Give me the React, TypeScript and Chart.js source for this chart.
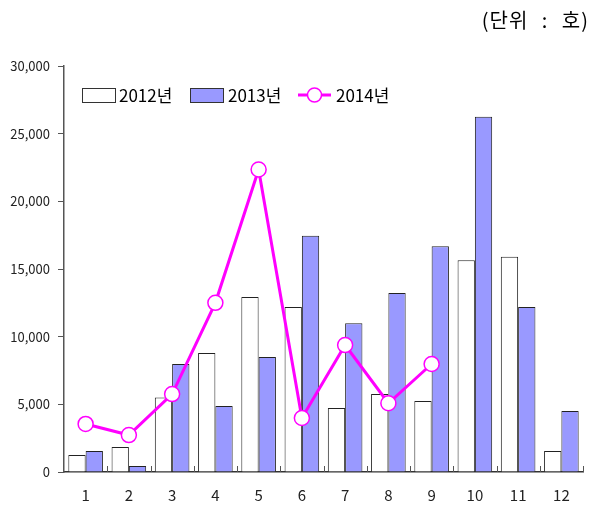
import React, { useEffect, useRef } from "react";
import { Chart, registerables } from "chart.js";

Chart.register(...registerables);

const categories = ["1", "2", "3", "4", "5", "6", "7", "8", "9", "10", "11", "12"];
const series2012 = [1250, 1850, 5500, 8800, 12930, 12200, 4730, 5760, 5250, 15650, 15900, 1550];
const series2013 = [1550, 440, 7980, 4880, 8500, 17450, 11000, 13230, 16680, 26250, 12200, 4500];
const series2014 = [3550, 2730, 5760, 12500, 22350, 3990, 9380, 5080, 7980, null, null, null];
const seriesNames = ["2012년", "2013년", "2014년"];
const unitLabel = "(단위 : 호)";

const FONT = "'Noto Sans CJK KR', 'Noto Sans', sans-serif";

export default function App() {
  const ref = useRef<HTMLCanvasElement | null>(null);
  useEffect(() => {
    if (!ref.current) return;
    const extras = {
      id: "extras",
      afterDraw(chart: any) {
        const ctx = chart.ctx;
        const area = chart.chartArea;
        ctx.save();
        // inward tick marks on x axis at category boundaries
        ctx.strokeStyle = "#555";
        ctx.lineWidth = 1;
        const n = categories.length;
        const w = (area.right - area.left) / n;
        for (let i = 1; i <= n; i++) {
          const x = Math.round(area.left + w * i) + 0.5;
          ctx.beginPath();
          ctx.moveTo(x, area.bottom);
          ctx.lineTo(x, area.bottom - 6);
          ctx.stroke();
        }
        // unit label
        ctx.fillStyle = "#000";
        ctx.font = `20px ${FONT}`;
        ctx.textAlign = "right";
        ctx.textBaseline = "middle";
        try {
          (ctx as any).letterSpacing = "1px";
          (ctx as any).wordSpacing = "8px";
        } catch (e) {}
        ctx.fillText(unitLabel, 589, 20);
        try {
          (ctx as any).letterSpacing = "0px";
          (ctx as any).wordSpacing = "0px";
        } catch (e) {}
        // legend
        ctx.font = `17px ${FONT}`;
        ctx.textAlign = "left";
        ctx.lineWidth = 1;
        const ly = 95;
        ctx.fillStyle = "#fff";
        ctx.strokeStyle = "#333";
        ctx.fillRect(82, ly - 7, 33, 14);
        ctx.strokeRect(82.5, ly - 6.5, 33, 14);
        ctx.fillStyle = "#000";
        ctx.fillText(seriesNames[0], 119, ly + 1);
        ctx.fillStyle = "#9999FF";
        ctx.fillRect(190, ly - 7, 33, 14);
        ctx.strokeStyle = "#333";
        ctx.strokeRect(190.5, ly - 6.5, 33, 14);
        ctx.fillStyle = "#000";
        ctx.fillText(seriesNames[1], 228, ly + 1);
        ctx.strokeStyle = "#FF00FF";
        ctx.lineWidth = 3;
        ctx.beginPath();
        ctx.moveTo(298, ly);
        ctx.lineTo(331, ly);
        ctx.stroke();
        ctx.fillStyle = "#fff";
        ctx.lineWidth = 1.5;
        ctx.beginPath();
        ctx.arc(314.5, ly, 7, 0, Math.PI * 2);
        ctx.fill();
        ctx.stroke();
        ctx.fillStyle = "#000";
        ctx.fillText(seriesNames[2], 336, ly + 1);
        ctx.restore();
      },
    };
    const chart = new Chart(ref.current, {
      type: "bar",
      data: {
        labels: categories,
        datasets: [
          {
            type: "line",
            label: seriesNames[2],
            data: series2014 as any,
            borderColor: "#FF00FF",
            borderWidth: 3,
            backgroundColor: "#fff",
            pointBackgroundColor: "#fff",
            pointBorderColor: "#FF00FF",
            pointBorderWidth: 1.5,
            pointRadius: 7.5,
            tension: 0,
            spanGaps: false,
            order: 0,
          } as any,
          {
            label: seriesNames[0],
            data: series2012,
            backgroundColor: "#ffffff",
            borderColor: "#222",
            borderWidth: 1,
            categoryPercentage: 0.8,
            barPercentage: 1.0,
            order: 1,
          },
          {
            label: seriesNames[1],
            data: series2013,
            backgroundColor: "#9999FF",
            borderColor: "#222",
            borderWidth: 1,
            categoryPercentage: 0.8,
            barPercentage: 1.0,
            order: 1,
          },
        ],
      },
      options: {
        animation: false,
        responsive: false,
        maintainAspectRatio: false,
        layout: { padding: { left: 0, right: 4, top: 66, bottom: 0 } },
        plugins: {
          legend: { display: false },
          tooltip: { enabled: false },
          title: { display: false },
        },
        scales: {
          x: {
            grid: { display: false, drawTicks: false },
            border: { color: "#333", width: 1.5 },
            ticks: {
              color: "#222",
              font: { family: FONT, size: 15 },
              padding: 14,
            },
            afterFit(scale: any) {
              scale.height = 36;
            },
          },
          y: {
            min: 0,
            max: 30000,
            grid: { drawOnChartArea: false, drawTicks: true, tickLength: 6, color: "#555" },
            border: { color: "#555", width: 1.5 },
            ticks: {
              stepSize: 5000,
              color: "#222",
              font: { family: FONT, size: 13 },
              padding: 8,
              callback: (v: any) => Number(v).toLocaleString("en-US"),
            },
            afterFit(scale: any) {
              scale.width = 64;
            },
          },
        },
      },
      plugins: [extras],
    });
    return () => chart.destroy();
  }, []);
  return (
    <div style={{ position: "fixed", left: 0, top: 0, width: 592, height: 508, background: "#fff" }}>
      <canvas ref={ref} width={592} height={508} style={{ width: 592, height: 508 }} />
    </div>
  );
}
